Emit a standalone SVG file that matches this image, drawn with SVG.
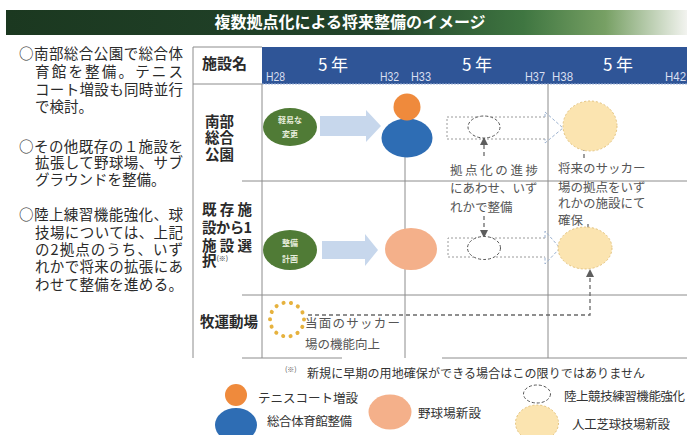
<svg xmlns="http://www.w3.org/2000/svg" width="687" height="435" viewBox="0 0 687 435">
<style>
text{font-family:"Noto Sans CJK JP","Noto Sans",sans-serif}
.lt{font-size:14.5px;fill:#2a2a2a}
.rh{font-size:14.5px;font-weight:bold;fill:#2a2a2a}
.hy{font-family:"Liberation Sans",sans-serif;font-size:12px;fill:#d8dff0}
.yr{font-size:17px;fill:#fff}
.an{font-size:12.5px;fill:#555}
.lg{font-size:12.5px;fill:#333}
.gl{stroke:#8c8c8c;stroke-width:1;fill:none}
.ge{fill:#507b36}
.gt{font-size:8px;font-weight:bold;fill:#e8eedd;text-anchor:middle}
.ba{fill:#c7d7ec}
.ye{fill:#fbe4b0;stroke:#e3c27c;stroke-width:1;stroke-dasharray:2 2}
.de{fill:#fff;stroke:#555;stroke-width:1;stroke-dasharray:3 2}
.da{stroke:#6a6a6a;stroke-width:1.3;stroke-dasharray:4 3;fill:none}
.db{stroke:#9a9a9a;stroke-width:1;stroke-dasharray:2 2;fill:none}
.dh{stroke:#9cb2d0;stroke-width:1;stroke-dasharray:3 2;fill:none}
</style>
<defs>
<linearGradient id="tg" x1="0" x2="1" y1="0" y2="0">
<stop offset="0" stop-color="#1b3820"/>
<stop offset="0.55" stop-color="#22442a"/>
<stop offset="0.76" stop-color="#3f7641"/>
<stop offset="0.88" stop-color="#77a064"/>
<stop offset="1" stop-color="#f2f3ef"/>
</linearGradient>
<marker id="ah" viewBox="0 0 8 8" refX="7" refY="4" markerWidth="8" markerHeight="8" markerUnits="userSpaceOnUse" orient="auto">
<path d="M0,0 L8,4 L0,8 Z" fill="#5e5e5e"/>
</marker>
</defs>

<g id="title">
<rect x="6" y="10" width="681" height="25" fill="url(#tg)"/>
<text x="350" y="28" font-size="16" font-weight="bold" fill="#fff" text-anchor="middle">複数拠点化による将来整備のイメージ</text>
</g>

<g id="summary">
<text class="lt" x="19" y="59" textLength="164" lengthAdjust="spacing">○南部総合公園で総合体</text>
<text class="lt" x="35" y="77" textLength="148" lengthAdjust="spacing">育館を整備。テニス</text>
<text class="lt" x="35" y="95" textLength="148" lengthAdjust="spacing">コート増設も同時並行</text>
<text class="lt" x="35" y="112">で検討。</text>
<text class="lt" x="19" y="152" textLength="164" lengthAdjust="spacing">○その他既存の１施設を</text>
<text class="lt" x="35" y="168" textLength="148" lengthAdjust="spacing">拡張して野球場、サブ</text>
<text class="lt" x="35" y="185">グラウンドを整備。</text>
<text class="lt" x="19" y="220" textLength="164" lengthAdjust="spacing">○陸上練習機能強化、球</text>
<text class="lt" x="35" y="238" textLength="148" lengthAdjust="spacing">技場については、上記</text>
<text class="lt" x="35" y="255" textLength="148" lengthAdjust="spacing">の2拠点のうち、いず</text>
<text class="lt" x="35" y="272" textLength="148" lengthAdjust="spacing">れかで将来の拡張にあ</text>
<text class="lt" x="35" y="290" textLength="148" lengthAdjust="spacing">わせて整備を進める。</text>
</g>

<g id="table">
<rect x="262" y="47" width="425" height="37" fill="#2f5597"/>
<line x1="262" y1="84" x2="687" y2="84" stroke="#9fb2d6" stroke-width="1" stroke-dasharray="2 1"/>
<line class="gl" x1="193" y1="47" x2="262" y2="47" stroke="#ccc"/>
<line class="gl" x1="193" y1="47" x2="193" y2="358"/>
<line class="gl" x1="193" y1="84" x2="262" y2="84"/>
<line class="gl" x1="262" y1="84" x2="262" y2="358"/>
<line class="gl" x1="405" y1="120" x2="405" y2="358"/>
<line class="gl" x1="548" y1="84" x2="548" y2="358"/>
<line class="gl" x1="242" y1="181" x2="687" y2="181"/>
<line class="gl" x1="242" y1="295" x2="687" y2="295"/>
<line class="gl" x1="242" y1="358" x2="342" y2="358"/>
<line class="gl" x1="442" y1="358" x2="687" y2="358"/>
<text x="202" y="69" font-size="15" font-weight="bold" fill="#2a2a2a">施設名</text>
<text class="yr" x="333" y="71" text-anchor="middle">5 年</text>
<text class="yr" x="477" y="71" text-anchor="middle">5 年</text>
<text class="yr" x="618" y="71" text-anchor="middle">5 年</text>
<text class="hy" x="266" y="81" textLength="19" lengthAdjust="spacingAndGlyphs">H28</text>
<text class="hy" x="380" y="81" textLength="19" lengthAdjust="spacingAndGlyphs">H32</text>
<text class="hy" x="411" y="81" textLength="20" lengthAdjust="spacingAndGlyphs">H33</text>
<text class="hy" x="525" y="81" textLength="20" lengthAdjust="spacingAndGlyphs">H37</text>
<text class="hy" x="552" y="81" textLength="21" lengthAdjust="spacingAndGlyphs">H38</text>
<text class="hy" x="665" y="81" textLength="21" lengthAdjust="spacingAndGlyphs">H42</text>
</g>

<g id="row1-label">
<text class="rh" x="205" y="127">南部</text>
<text class="rh" x="205" y="143">総合</text>
<text class="rh" x="205" y="160">公園</text>
</g>
<g id="row2-label">
<text class="rh" x="202" y="215" textLength="50" lengthAdjust="spacing">既存施</text>
<text class="rh" x="202" y="233" textLength="50" lengthAdjust="spacing">設から1</text>
<text class="rh" x="202" y="251" textLength="50" lengthAdjust="spacing">施設選</text>
<text class="rh" x="202" y="266">択<tspan font-size="7" font-weight="normal" dy="-5">(※)</tspan></text>
</g>
<g id="row3-label">
<text class="rh" x="200" y="327" textLength="58" lengthAdjust="spacing">牧運動場</text>
</g>

<g id="connectors">
<path class="ba" d="M320,116 H366 V110 L381,126 L366,142 V136 H320 Z"/>
<path class="ba" d="M322,241 H365 V234 L378,250 L365,266 V259 H322 Z"/>
<path class="db" d="M545,117 H447 V139 H545"/>
<path class="dh" d="M545,117 V112 L563,128 L545,143 V139"/>
<path class="db" d="M545,238 H448 V257 H545"/>
<path class="dh" d="M545,238 V231 L560,248 L545,264 V257"/>
<line class="da" x1="484" y1="156" x2="484" y2="138" marker-end="url(#ah)"/>
<line class="da" x1="584" y1="158" x2="584" y2="139" marker-end="url(#ah)"/>
<line class="da" x1="484" y1="216" x2="484" y2="237" marker-end="url(#ah)"/>
<line class="da" x1="588" y1="224" x2="588" y2="245" marker-end="url(#ah)"/>
<path class="da" d="M308,315 H590 V270" marker-end="url(#ah)"/>
</g>

<g id="n-keieki">
<ellipse class="ge" cx="290" cy="127" rx="27" ry="19"/>
<text class="gt" x="290" y="123">軽易な</text>
<text class="gt" x="290" y="137">変更</text>
</g>
<g id="n-gym">
<ellipse cx="407" cy="138" rx="25.5" ry="19.5" fill="#2e6db4"/>
<circle cx="407" cy="107" r="13.5" fill="#ef8a3c"/>
</g>
<g id="n-track1">
<ellipse class="de" cx="484" cy="127" rx="16" ry="11"/>
</g>
<g id="n-soccer1">
<ellipse class="ye" cx="590" cy="126" rx="27" ry="25"/>
</g>
<g id="t-progress">
<text class="an" x="450" y="175" textLength="88" lengthAdjust="spacing">拠点化の進捗</text>
<text class="an" x="450" y="193">にあわせ、いず</text>
<text class="an" x="450" y="212">れかで整備</text>
</g>
<g id="t-future">
<text class="an" x="558" y="173">将来のサッカー</text>
<text class="an" x="558" y="192">場の拠点をいず</text>
<text class="an" x="558" y="208">れかの施設にて</text>
<text class="an" x="558" y="225">確保</text>
</g>

<g id="n-seibi">
<ellipse class="ge" cx="290" cy="250" rx="27" ry="20"/>
<text class="gt" x="290" y="246">整備</text>
<text class="gt" x="290" y="262">計画</text>
</g>
<g id="n-baseball">
<ellipse cx="411" cy="249" rx="26" ry="21" fill="#f4b08a"/>
</g>
<g id="n-track2">
<ellipse class="de" cx="484" cy="248" rx="16.5" ry="11.5"/>
</g>
<g id="n-soccer2">
<ellipse class="ye" cx="585" cy="248" rx="27" ry="21"/>
</g>

<g id="n-makio">
<circle cx="287" cy="319.5" r="17" fill="none" stroke="#e6b23e" stroke-width="4" stroke-linecap="round" stroke-dasharray="0.1 7.5"/>
<text class="an" x="305" y="328" textLength="95" lengthAdjust="spacing">当面のサッカー</text>
<text class="an" x="305" y="349">場の機能向上</text>
</g>

<g id="footnote">
<text x="285" y="372" font-size="7" fill="#555">(※)</text>
<text x="307" y="378" font-size="12" fill="#333" textLength="338" lengthAdjust="spacing">新規に早期の用地確保ができる場合はこの限りではありません</text>
</g>

<g id="legend">
<ellipse cx="236" cy="425" rx="21" ry="17" fill="#2e6db4"/>
<circle cx="236" cy="395" r="11" fill="#ef8a3c"/>
<text class="lg" x="258" y="403" textLength="100" lengthAdjust="spacing">テニスコート増設</text>
<text class="lg" x="267" y="426" textLength="85" lengthAdjust="spacing">総合体育館整備</text>
<ellipse cx="390" cy="412" rx="21.5" ry="17.5" fill="#f4b08a"/>
<text class="lg" x="418" y="418" textLength="63" lengthAdjust="spacing">野球場新設</text>
<ellipse class="de" cx="537" cy="394" rx="13.5" ry="9" stroke="#888"/>
<text class="lg" x="564" y="401" textLength="121" lengthAdjust="spacing">陸上競技練習機能強化</text>
<ellipse class="ye" cx="537" cy="423" rx="21.5" ry="18"/>
<text class="lg" x="572" y="429" textLength="98" lengthAdjust="spacing">人工芝球技場新設</text>
</g>
</svg>
